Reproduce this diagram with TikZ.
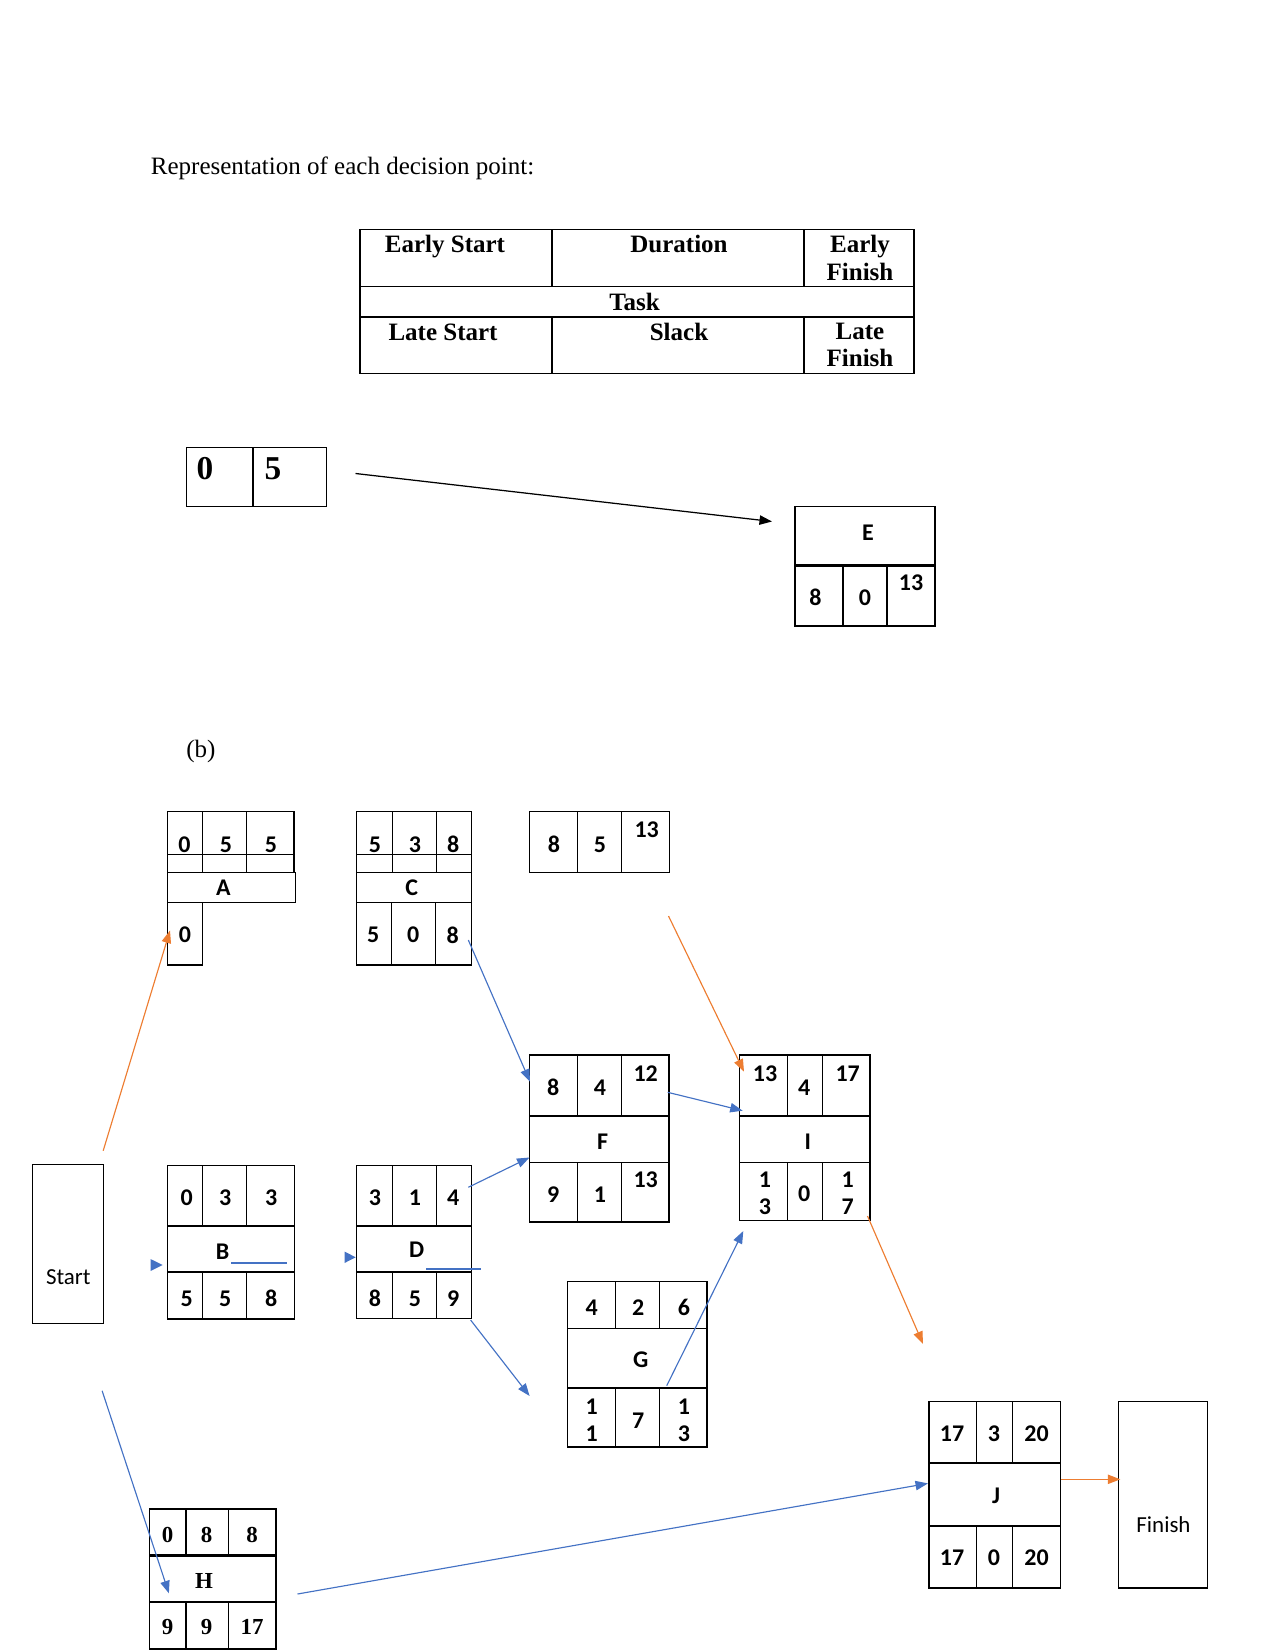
\documentclass[tikz,border=0pt]{standalone}
\usepackage{fontspec}
\setmainfont{Liberation Serif}
\setsansfont{Carlito}
\usetikzlibrary{arrows.meta}
\definecolor{orng}{RGB}{237,125,49}
\definecolor{blu}{RGB}{68,114,196}
\begin{document}
\begin{tikzpicture}[x=0.48pt,y=-0.48pt,
  box/.style={draw=black,line width=0.6pt},
  tbox/.style={draw=black,line width=1.1pt},
  num/.style={font=\sffamily\bfseries\fontsize{11.5}{12.8}\selectfont,inner sep=0pt,align=center},
  snum/.style={font=\rmfamily\bfseries\fontsize{11}{12.8}\selectfont,inner sep=0pt},
  bignum/.style={font=\rmfamily\bfseries\fontsize{16}{18}\selectfont,inner sep=0pt},
  tbl/.style={font=\rmfamily\bfseries\fontsize{12}{13.2}\selectfont,inner sep=0pt,align=center},
  plain/.style={font=\rmfamily\fontsize{12}{14}\selectfont,inner sep=0pt},
  lbl/.style={font=\sffamily\fontsize{11}{13}\selectfont,inner sep=0pt},
  bluearrow/.style={draw=blu,line width=0.55pt,-{Triangle[length=6pt,width=4.5pt]}},
  orangearrow/.style={draw=orng,line width=0.55pt,-{Triangle[length=6pt,width=4.5pt]}},
  blackarrow/.style={draw=black,line width=0.6pt,-{Triangle[length=6pt,width=4.5pt]}}
]
\useasboundingbox (0,0) rectangle (1275,1651);

% title
\node[plain,anchor=base west] (title) at (150.5,175) {Representation of each decision point:};

% legend table
\draw[box] (360,229.5) rectangle (914,373.7);
\draw[box] (360,286.4) -- (914,286.4);
\draw[box] (360,317) -- (914,317);
\draw[box] (552,229.5) -- (552,286.4);
\draw[box] (804,229.5) -- (804,286.4);
\draw[box] (552,317) -- (552,373.7);
\draw[box] (804,317) -- (804,373.7);
\node[tbl,anchor=base] (tES) at (445,252.5) {Early Start};
\node[tbl,anchor=base] (tDu) at (679,252.5) {Duration};
\node[tbl] (tEF) at (860,257.8) {Early\\Finish};
\node[tbl,anchor=base] (tTa) at (634.5,310) {Task};
\node[tbl,anchor=base] (tLS) at (443,340) {Late Start};
\node[tbl,anchor=base] (tSl) at (679,340) {Slack};
\node[tbl] (tLF) at (860,345) {Late\\Finish};

% small box 0 5
\draw[box] (186.3,447.4) rectangle (326.8,506.4);
\draw[box] (253,447.4) -- (253,506.4);
\node[bignum] (s0) at (205,469) {0};
\node[bignum] (s5) at (273,469) {5};
\coordinate (sOut) at (355.5,473.5);

% E box
\draw[box] (795,506.5) rectangle (935,626);
\draw[tbox] (795,565.5) -- (935,565.5);
\draw[tbox] (795,626) -- (935,626);
\draw[box] (843,565.5) -- (843,626);
\draw[box] (887,565.5) -- (887,626);
\node[num] (Elab) at (868,533) {E};
\node[num] (E1) at (815.5,597.5) {8};
\node[num] (E2) at (865,597.5) {0};
\node[num] (E3) at (911,582.5) {13};
\coordinate (Ein) at (772,521.5);
\draw[blackarrow] (sOut) -- (Ein);

% (b)
\node[plain,anchor=base west] (blabel) at (186,757) {(b)};

% A box
\draw[box] (167.3,811.7) rectangle (294,872.3);
\draw[box] (167.3,854.3) -- (294,854.3);
\draw[box] (202.7,811.7) -- (202.7,872.3);
\draw[box] (246.7,811.7) -- (246.7,872.3);
\draw[box] (167.3,872.3) rectangle (295.5,902.3);
\draw[box] (167.3,902.3) rectangle (202.7,965);
\node[num] (A1) at (184.5,844.5) {0};
\node[num] (A2) at (226,844.5) {5};
\node[num] (A3) at (271,844.5) {5};
\node[num] (Alab) at (223.5,887.3) {A};
\node[num] (A4) at (185,935) {0};

% C box
\draw[box] (356.7,811.7) rectangle (471.3,965);
\draw[box] (356.7,854.3) -- (471.3,854.3);
\draw[box] (356.7,872.3) -- (471.3,872.3);
\draw[box] (356.7,902.3) -- (471.3,902.3);
\draw[box] (392.7,811.7) -- (392.7,872.3);
\draw[box] (436.7,811.7) -- (436.7,872.3);
\draw[box] (391.3,902.3) -- (391.3,965);
\draw[box] (435.7,902.3) -- (435.7,965);
\node[num] (C1) at (375,844.5) {5};
\node[num] (C2) at (415,844.5) {3};
\node[num] (C3) at (453.3,844.5) {8};
\node[num] (Clab) at (411.7,887.3) {C};
\node[num] (C4) at (373.3,935) {5};
\node[num] (C5) at (413.3,935) {0};
\node[num] (C6) at (452.7,935) {8};

% top box 8 5 13
\draw[box] (529.3,811.7) rectangle (669.3,872.3);
\draw[box] (577.7,811.7) -- (577.7,872.3);
\draw[box] (621.3,811.7) -- (621.3,872.3);
\node[num] (T1) at (554,844.5) {8};
\node[num] (T2) at (600,844.5) {5};
\node[num] (T3) at (646.7,829.3) {13};

% F box
\draw[box] (529.3,1055) rectangle (669,1222);
\draw[tbox] (529.3,1116) -- (669,1116);
\draw[box] (529.3,1162.3) -- (669,1162.3);
\draw[box] (577.7,1055) -- (577.7,1116);
\draw[box] (621.7,1055) -- (621.7,1116);
\draw[box] (577.7,1162.3) -- (577.7,1222);
\draw[box] (621.7,1162.3) -- (621.7,1222);
\node[num] (F1) at (553.3,1087.7) {8};
\node[num] (F2) at (600,1087.7) {4};
\node[num] (F3) at (645.7,1073.3) {12};
\node[num] (Flab) at (602.7,1141.7) {F};
\node[num] (F4) at (553.3,1195) {9};
\node[num] (F5) at (600,1195) {1};
\node[num] (F6) at (645.7,1180) {13};

% I box
\draw[box] (739.7,1055) rectangle (870,1220.3);
\draw[tbox] (739.7,1116) -- (870,1116);
\draw[box] (739.7,1162.3) -- (870,1162.3);
\draw[box] (787.7,1055) -- (787.7,1116);
\draw[box] (822.3,1055) -- (822.3,1116);
\draw[box] (787.7,1162.3) -- (787.7,1220.3);
\draw[box] (822.3,1162.3) -- (822.3,1220.3);
\node[num] (I1) at (765,1073.3) {13};
\node[num] (I2) at (804.3,1088) {4};
\node[num] (I3) at (847.7,1073.3) {17};
\node[num] (Ilab) at (807.7,1141.7) {I};
\node[num] (I4) at (765,1193.4) {1\\3};
\node[num] (I5) at (804.3,1194) {0};
\node[num] (I6) at (847.7,1193.4) {1\\7};

% Start box
\draw[box] (32.3,1164.7) rectangle (103.3,1323.7);
\node[lbl] (start) at (68.3,1277.3) {Start};

% B box
\draw[box] (167.7,1165.3) rectangle (294.3,1319);
\draw[box] (167.7,1226) -- (294.3,1226);
\draw[box] (167.7,1272) -- (294.3,1272);
\draw[box] (202.3,1165.3) -- (202.3,1226);
\draw[box] (246.7,1165.3) -- (246.7,1226);
\draw[box] (202.3,1272) -- (202.3,1319);
\draw[box] (246.7,1272) -- (246.7,1319);
\node[num] (B1) at (186.7,1197.7) {0};
\node[num] (B2) at (225.3,1197.7) {3};
\node[num] (B3) at (271.3,1197.7) {3};
\node[num] (Blab) at (222.7,1251.7) {B};
\node[num] (B4) at (186.7,1298.3) {5};
\node[num] (B5) at (225.3,1298.3) {5};
\node[num] (B6) at (271.3,1298.3) {8};
\coordinate (Bu1) at (231,1262.7);
\coordinate (Bu2) at (286.7,1262.7);
\draw[blu,line width=0.8pt] (Bu1) -- (Bu2);
\fill[blu] (150.5,1259) -- (162.7,1265) -- (150.5,1271) -- cycle;

% D box
\draw[box] (356.7,1165.3) rectangle (471.7,1318.3);
\draw[box] (356.7,1226) -- (471.7,1226);
\draw[box] (356.7,1272) -- (471.7,1272);
\draw[box] (392.3,1165.3) -- (392.3,1226);
\draw[box] (436.7,1165.3) -- (436.7,1226);
\draw[box] (392.3,1272) -- (392.3,1318.3);
\draw[box] (436.7,1272) -- (436.7,1318.3);
\node[num] (D1) at (375,1197.7) {3};
\node[num] (D2) at (415,1197.7) {1};
\node[num] (D3) at (453.3,1197.7) {4};
\node[num] (Dlab) at (416.7,1250) {D};
\node[num] (D4) at (375,1298.3) {8};
\node[num] (D5) at (415,1298.3) {5};
\node[num] (D6) at (453.3,1298.3) {9};
\coordinate (Du1) at (426,1269);
\coordinate (Du2) at (481,1269);
\draw[blu,line width=0.8pt] (Du1) -- (Du2);
\fill[blu] (344.5,1251.5) -- (355.7,1257.3) -- (344.5,1263) -- cycle;

% G box
\draw[box] (567.3,1281.7) rectangle (707,1447);
\draw[box] (567.3,1328.3) -- (707,1328.3);
\draw[tbox] (567.3,1388.3) -- (707,1388.3);
\draw[box] (615.3,1281.7) -- (615.3,1328.3);
\draw[box] (659.3,1281.7) -- (659.3,1328.3);
\draw[box] (615.3,1388.3) -- (615.3,1447);
\draw[box] (659.3,1388.3) -- (659.3,1447);
\node[num] (G1) at (591.7,1307.7) {4};
\node[num] (G2) at (638.3,1307.7) {2};
\node[num] (G3) at (684,1307.7) {6};
\node[num] (Glab) at (640.7,1360) {G};
\node[num] (G4) at (591.7,1420) {1\\1};
\node[num] (G5) at (638.3,1420.7) {7};
\node[num] (G6) at (684,1420) {1\\3};

% H box
\draw[box] (149.5,1509) rectangle (276,1649);
\draw[tbox] (149.5,1555.5) -- (276,1555.5);
\draw[box] (149.5,1602) -- (276,1602);
\draw[box] (186,1509) -- (186,1555.5);
\draw[box] (228.3,1509) -- (228.3,1555.5);
\draw[box] (186,1602) -- (186,1649);
\draw[box] (228.3,1602) -- (228.3,1649);
\node[snum] (H1) at (167.5,1535) {0};
\node[snum] (H2) at (206.7,1535) {8};
\node[snum] (H3) at (252,1535) {8};
\node[snum] (Hlab) at (204,1580.5) {H};
\node[snum] (H4) at (167.5,1627.3) {9};
\node[snum] (H5) at (206.7,1627.3) {9};
\node[snum] (H6) at (252,1627.3) {17};

% J box
\draw[box] (929,1401.5) rectangle (1060.8,1588);
\draw[box] (929,1463) -- (1060.8,1463);
\draw[box] (929,1526) -- (1060.8,1526);
\draw[box] (976.5,1401.5) -- (976.5,1463);
\draw[box] (1012.5,1401.5) -- (1012.5,1463);
\draw[box] (976.5,1526) -- (976.5,1588);
\draw[box] (1012.5,1526) -- (1012.5,1588);
\node[num] (J1) at (952,1433.3) {17};
\node[num] (J2) at (994,1433.3) {3};
\node[num] (J3) at (1036.5,1433.3) {20};
\node[num] (Jlab) at (996,1496) {J};
\node[num] (J4) at (952,1557.3) {17};
\node[num] (J5) at (994,1557.3) {0};
\node[num] (J6) at (1036.5,1557.3) {20};

% Finish box
\draw[box] (1118.5,1401.5) rectangle (1207.6,1588);
\node[lbl] (finish) at (1163.5,1525) {Finish};

% connectors
\coordinate (stA) at (103.2,1150.7);
\coordinate (Ain) at (170,930.5);
\draw[orangearrow] (stA) -- (Ain);
\coordinate (stH) at (102.1,1390.7);
\coordinate (Hin) at (168.9,1593.3);
\draw[bluearrow] (stH) -- (Hin);
\coordinate (Cout) at (468.3,940);
\coordinate (Fin1) at (530,1081.7);
\draw[bluearrow] (Cout) -- (Fin1);
\coordinate (Dout) at (468.3,1187.3);
\coordinate (Fin2) at (529.5,1157.5);
\draw[bluearrow] (Dout) -- (Fin2);
\coordinate (Dout2) at (470.6,1320);
\coordinate (Gin) at (529.6,1396);
\draw[bluearrow] (Dout2) -- (Gin);
\coordinate (Fout) at (667.7,1092.3);
\coordinate (Iin1) at (742.7,1110.7);
\draw[bluearrow] (Fout) -- (Iin1);
\coordinate (Tout) at (668.5,916);
\coordinate (Iin2) at (744,1071.7);
\draw[orangearrow] (Tout) -- (Iin2);
\coordinate (Gout) at (666.7,1385.7);
\coordinate (Iin3) at (743.3,1231);
\draw[bluearrow] (Gout) -- (Iin3);
\coordinate (Iout) at (867.5,1216);
\coordinate (Jin1) at (923,1344);
\draw[orangearrow] (Iout) -- (Jin1);
\coordinate (Hout) at (297.5,1594);
\coordinate (Jin2) at (928,1483.4);
\draw[bluearrow] (Hout) -- (Jin2);
\coordinate (Jout) at (1060.8,1479.3);
\coordinate (finIn) at (1120.3,1479.3);
\draw[orangearrow] (Jout) -- (finIn);
\end{tikzpicture}
\end{document}
